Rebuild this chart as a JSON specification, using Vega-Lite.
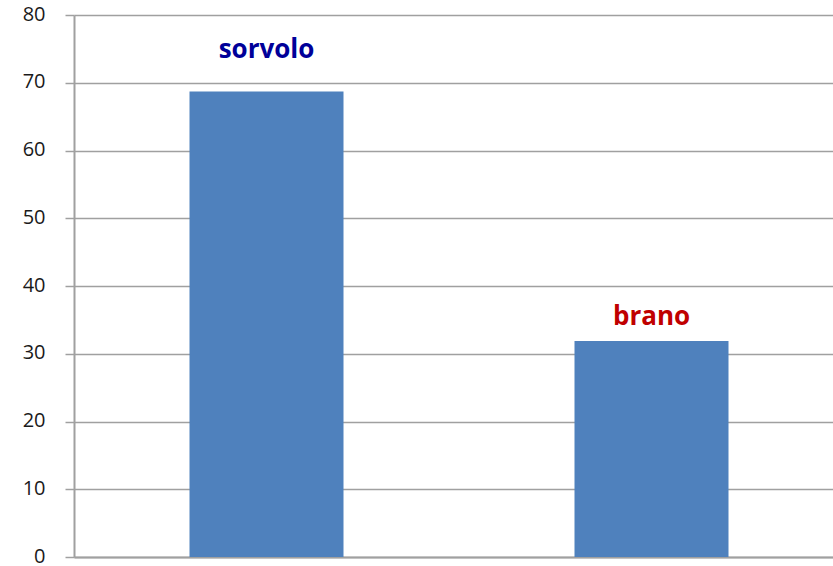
{
  "$schema": "https://vega.github.io/schema/vega-lite/v6.json",
  "width": 759,
  "height": 542,
  "autosize": {"type": "none"},
  "padding": {"left": 74, "top": 15, "right": 0, "bottom": 9},
  "background": "white",
  "config": {
    "view": {"stroke": null},
    "axis": {"domainColor": "#a0a0a0", "gridColor": "#a0a0a0", "tickColor": "#a0a0a0", "domainWidth": 2, "gridWidth": 1.5, "tickWidth": 1.5}
  },
  "data": {
    "values": [
      {"parola": "sorvolo", "valore": 68.7, "label_y": 73.6, "colore": "#000099"},
      {"parola": "brano", "valore": 31.9, "label_y": 34.2, "colore": "#c00000"}
    ]
  },
  "encoding": {
    "x": {
      "field": "parola",
      "type": "nominal",
      "sort": null,
      "scale": {"range": [0, 770], "paddingInner": 0.6, "paddingOuter": 0.3},
      "axis": {"title": null, "labels": false, "ticks": false, "domain": true}
    }
  },
  "layer": [
    {
      "mark": {"type": "bar", "color": "#4f81bd"},
      "encoding": {
        "y": {
          "field": "valore",
          "type": "quantitative",
          "scale": {"domain": [0, 80]},
          "axis": {
            "title": null,
            "values": [0, 10, 20, 30, 40, 50, 60, 70, 80],
            "tickSize": 9,
            "labelPadding": 20,
            "labelFont": "Open Sans",
            "labelFontSize": 20,
            "labelColor": "#1a1a1a",
            "labelOffset": -1,
            "grid": true
          }
        }
      }
    },
    {
      "mark": {"type": "text", "font": "Open Sans", "fontSize": 26, "fontWeight": "bold", "baseline": "alphabetic", "align": "center"},
      "encoding": {
        "y": {"field": "label_y", "type": "quantitative"},
        "text": {"field": "parola"},
        "color": {"field": "colore", "type": "nominal", "scale": null, "legend": null}
      }
    }
  ]
}
